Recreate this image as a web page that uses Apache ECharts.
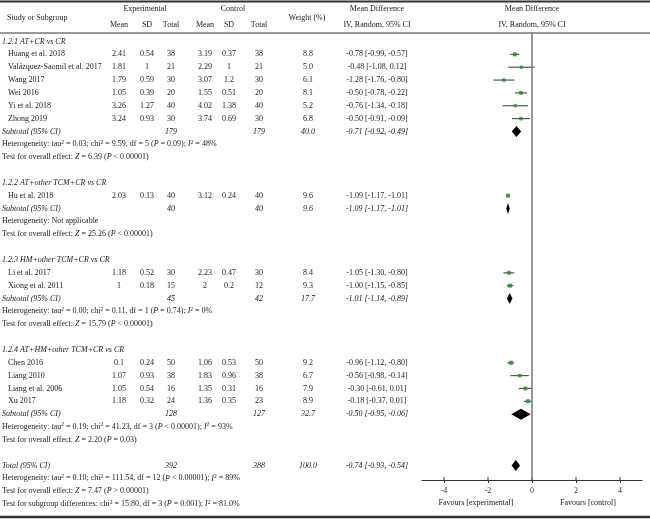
<!DOCTYPE html>
<html lang="en">
<head>
<meta charset="utf-8">
<title>Forest plot</title>
<script src="https://cdn.jsdelivr.net/npm/echarts@6.0.0/dist/echarts.min.js"></script>
<style>
    html, body { margin: 0; padding: 0; background: #fff; }
    #container { width: 650px; height: 519px; }
</style>
</head>
<body>
<div id="container"></div>
<script>
    // ---- data ----
    var groupLabels = ['1.2.1 AT+CR vs CR', '1.2.2 AT+other TCM+CR vs CR', '1.2.3 HM+other TCM+CR vs CR', '1.2.4 AT+HM+other TCM+CR vs CR'];
    var studies = ['Huang et al. 2018', 'Valázquez-Saomil et al. 2017', 'Wang 2017', 'Wei 2016', 'Yi et al. 2018', 'Zhong 2019',
        'Hu et al. 2018', 'Li et al. 2017', 'Xiong et al. 2011', 'Chen 2016', 'Liang 2010', 'Liang et al. 2006', 'Xu 2017'];
    var studyGroup = [0, 0, 0, 0, 0, 0, 1, 2, 2, 3, 3, 3, 3];
    var expMean = [2.41, 1.81, 1.79, 1.05, 3.26, 3.24, 2.03, 1.18, 1, 0.1, 1.07, 1.05, 1.18];
    var expSD = [0.54, 1, 0.59, 0.39, 1.27, 0.93, 0.13, 0.52, 0.18, 0.24, 0.93, 0.54, 0.32];
    var expN = [38, 21, 30, 20, 40, 30, 40, 30, 15, 50, 38, 16, 24];
    var ctrlMean = [3.19, 2.29, 3.07, 1.55, 4.02, 3.74, 3.12, 2.23, 2, 1.06, 1.83, 1.35, 1.36];
    var ctrlSD = [0.37, 1, 1.2, 0.51, 1.38, 0.69, 0.24, 0.47, 0.2, 0.53, 0.96, 0.31, 0.35];
    var ctrlN = [38, 21, 30, 20, 40, 30, 40, 30, 12, 50, 38, 16, 23];
    var weight = [8.8, 5.0, 6.1, 8.1, 5.2, 6.8, 9.6, 8.4, 9.3, 9.2, 6.7, 7.9, 8.9];
    var md = [-0.78, -0.48, -1.28, -0.50, -0.76, -0.50, -1.09, -1.05, -1.00, -0.96, -0.56, -0.30, -0.18];
    var ciLow = [-0.99, -1.08, -1.76, -0.78, -1.34, -0.91, -1.17, -1.30, -1.15, -1.12, -0.98, -0.61, -0.37];
    var ciHigh = [-0.57, 0.12, -0.80, -0.22, -0.18, -0.09, -1.01, -0.80, -0.85, -0.80, -0.14, 0.01, 0.01];

    var subExpN = [179, 40, 45, 128];
    var subCtrlN = [179, 40, 42, 127];
    var subWeight = [40.0, 9.6, 17.7, 32.7];
    var subMd = [-0.71, -1.09, -1.01, -0.50];
    var subLow = [-0.92, -1.17, -1.14, -0.95];
    var subHigh = [-0.49, -1.01, -0.89, -0.06];
    var hetText = [
        'Heterogeneity: tau{sup|2} = 0.03; chi{sup|2} = 9.59, df = 5 ({it|P} = 0.09); {it|I}{sup|2} = 48%',
        'Heterogeneity: Not applicable',
        'Heterogeneity: tau{sup|2} = 0.00; chi{sup|2} = 0.11, df = 1 ({it|P} = 0.74); {it|I}{sup|2} = 0%',
        'Heterogeneity: tau{sup|2} = 0.19; chi{sup|2} = 41.23, df = 3 ({it|P} < 0.00001); {it|I}{sup|2} = 93%'
    ];
    var effectText = [
        'Test for overall effect: {it|Z} = 6.39 ({it|P} < 0.00001)',
        'Test for overall effect: {it|Z} = 25.26 ({it|P} < 0.00001)',
        'Test for overall effect: {it|Z} = 15.79 ({it|P} < 0.00001)',
        'Test for overall effect: {it|Z} = 2.20 ({it|P} = 0.03)'
    ];
    var totalExpN = 392, totalCtrlN = 388, totalWeight = 100.0;
    var totalMd = -0.74, totalLow = -0.93, totalHigh = -0.54;
    var totalNotes = [
        'Heterogeneity: tau{sup|2} = 0.10; chi{sup|2} = 111.54, df = 12 ({it|P} < 0.00001); {it|I}{sup|2} = 89%',
        'Test for overall effect: {it|Z} = 7.47 ({it|P} > 0.00001)',
        'Test for subgroup differences: chi{sup|2} = 15.80, df = 3 ({it|P} = 0.001); {it|I}{sup|2} = 81.0%'
    ];
    var axisTicks = [-4, -2, 0, 2, 4];

    // ---- layout ----
    var FONT = '"Liberation Serif", "DejaVu Serif", serif';
    var FS = 8;
    var INK = '#222';
    var Y0 = 41.5, RH = 12.85, TOP = 33, AXIS_Y = 480;
    var yMin = -(Y0 - TOP) / RH;
    var yMax = yMin + (AXIS_Y - TOP) / RH;
    // column centres
    var colX = {expMean: 119, expSD: 147, expN: 171, ctrlMean: 205, ctrlSD: 229, ctrlN: 259, weight: 308, md: 377};

    var rows = [];
    var studyRow = [], subRow = [];
    var r = 0;
    for (var g = 0; g < groupLabels.length; g++) {
        rows.push({r: r++, kind: 'group', g: g});
        for (var i = 0; i < studies.length; i++) {
            if (studyGroup[i] === g) {
                studyRow[i] = r;
                rows.push({r: r++, kind: 'study', i: i});
            }
        }
        subRow[g] = r;
        rows.push({r: r++, kind: 'sub', g: g});
        rows.push({r: r++, kind: 'note', text: hetText[g]});
        rows.push({r: r++, kind: 'note', text: effectText[g]});
        r++;
    }
    var totalRow = r;
    rows.push({r: r++, kind: 'total'});
    totalNotes.forEach(function (t) { rows.push({r: r++, kind: 'note', text: t}); });

    function mdText(m, lo, hi) { return m.toFixed(2) + ' [' + lo.toFixed(2) + ', ' + hi.toFixed(2) + ']'; }

    var dom = document.getElementById('container');
    var myChart = echarts.init(dom);

    var diamonds = subMd.map(function (m, k) { return [subLow[k], m, subHigh[k], subRow[k]]; });
    diamonds.push([totalLow, totalMd, totalHigh, totalRow]);

    var option = {
        animation: false,
        grid: {left: 422, width: 220, top: TOP, bottom: 519 - AXIS_Y},
        xAxis: {
            type: 'value', min: -5, max: 5, position: 'bottom',
            axisLine: {show: true, onZero: false, lineStyle: {color: '#333', width: 1}},
            axisTick: {show: true, customValues: axisTicks, length: 3, lineStyle: {color: '#333'}},
            axisLabel: {customValues: axisTicks, fontFamily: FONT, fontSize: FS, color: '#333', margin: 7},
            splitLine: {show: false}
        },
        yAxis: {
            type: 'value', inverse: true, min: yMin, max: yMax,
            show: false
        },
        series: [{
            name: 'ci',
            type: 'custom',
            data: studies.map(function (s, k) { return [ciLow[k], ciHigh[k], studyRow[k]]; }),
            encode: {x: [0, 1], y: 2},
            renderItem: function (params, api) {
                var a = api.coord([api.value(0), api.value(2)]);
                var b = api.coord([api.value(1), api.value(2)]);
                return {type: 'line', shape: {x1: a[0], y1: a[1], x2: b[0], y2: b[1]},
                    style: {stroke: '#555', lineWidth: 1.2}};
            }
        }, {
            name: 'study',
            type: 'scatter',
            symbol: 'rect',
            data: studies.map(function (s, k) {
                return {value: [md[k], studyRow[k]], symbolSize: 2.2 + weight[k] * 0.2};
            }),
            itemStyle: {color: '#1f8f26'},
            markLine: {
                silent: true, symbol: 'none',
                label: {show: false},
                lineStyle: {color: '#777', width: 1.5, type: 'solid'},
                data: [{xAxis: 0}]
            }
        }, {
            name: 'pooled',
            type: 'custom',
            data: diamonds,
            encode: {x: [0, 1, 2], y: 3},
            renderItem: function (params, api) {
                var lo = api.coord([api.value(0), api.value(3)]);
                var mid = api.coord([api.value(1), api.value(3)]);
                var hi = api.coord([api.value(2), api.value(3)]);
                var h = 5.5;
                return {type: 'polygon',
                    shape: {points: [[lo[0], lo[1]], [mid[0], mid[1] - h], [hi[0], hi[1]], [mid[0], mid[1] + h]]},
                    style: {fill: '#000'}};
            }
        }, {
            // upper half of the crossing tick marks
            name: 'tickUp',
            type: 'custom',
            clip: false,
            data: axisTicks.map(function (t) { return [t, yMax]; }),
            renderItem: function (params, api) {
                var p = api.coord([api.value(0), api.value(1)]);
                return {type: 'line', shape: {x1: p[0], y1: p[1], x2: p[0], y2: p[1] - 3},
                    style: {stroke: '#333', lineWidth: 1}};
            }
        }]
    };
    myChart.setOption(option);

    // ---- table text ----
    var rich = {
        sup: {fontSize: 5.5, fontFamily: FONT, fill: INK, verticalAlign: 'top', lineHeight: 10},
        it: {fontSize: FS, fontFamily: FONT, fontStyle: 'italic', fill: INK, lineHeight: 10}
    };
    var gfx = [];
    function txt(x, y, s, align, italic) {
        gfx.push({type: 'text', x: x, y: y, silent: true,
            style: {text: s, fontFamily: FONT, fontSize: FS, fontStyle: italic ? 'italic' : 'normal',
                fill: INK, align: align || 'center', verticalAlign: 'middle', rich: rich, lineHeight: 10}});
    }
    function hline(y, w) {
        gfx.push({type: 'line', silent: true, shape: {x1: 0, y1: y, x2: 650, y2: y}, style: {stroke: '#333', lineWidth: w}});
    }
    hline(1.5, 2);
    hline(33, 1);
    hline(517, 2.5);

    txt(145, 9, 'Experimental');
    txt(233, 9, 'Control');
    txt(7, 17.5, 'Study or Subgroup', 'left');
    txt(307, 17.5, 'Weight (%)');
    txt(377, 9, 'Mean Difference');
    txt(377, 24.5, 'IV, Random, 95% CI');
    txt(532, 9, 'Mean Difference');
    txt(532, 24.5, 'IV, Random, 95% CI');
    [['Mean', colX.expMean], ['SD', colX.expSD], ['Total', colX.expN],
     ['Mean', colX.ctrlMean], ['SD', colX.ctrlSD], ['Total', colX.ctrlN]].forEach(function (h) {
        txt(h[1], 24.5, h[0]);
    });

    rows.forEach(function (row) {
        var y = myChart.convertToPixel({yAxisIndex: 0}, row.r);
        if (row.kind === 'group') {
            txt(2, y, groupLabels[row.g], 'left', true);
        } else if (row.kind === 'study') {
            var k = row.i;
            txt(8, y, studies[k], 'left');
            txt(colX.expMean, y, String(expMean[k]));
            txt(colX.expSD, y, String(expSD[k]));
            txt(colX.expN, y, String(expN[k]));
            txt(colX.ctrlMean, y, String(ctrlMean[k]));
            txt(colX.ctrlSD, y, String(ctrlSD[k]));
            txt(colX.ctrlN, y, String(ctrlN[k]));
            txt(colX.weight, y, weight[k].toFixed(1));
            txt(colX.md, y, mdText(md[k], ciLow[k], ciHigh[k]));
        } else if (row.kind === 'sub') {
            var g2 = row.g;
            txt(2, y, 'Subtotal (95% CI)', 'left', true);
            txt(colX.expN, y, String(subExpN[g2]), 'center', true);
            txt(colX.ctrlN, y, String(subCtrlN[g2]), 'center', true);
            txt(colX.weight, y, subWeight[g2].toFixed(1), 'center', true);
            txt(colX.md, y, mdText(subMd[g2], subLow[g2], subHigh[g2]), 'center', true);
        } else if (row.kind === 'total') {
            txt(2, y, 'Total (95% CI)', 'left', true);
            txt(colX.expN, y, String(totalExpN), 'center', true);
            txt(colX.ctrlN, y, String(totalCtrlN), 'center', true);
            txt(colX.weight, y, totalWeight.toFixed(1), 'center', true);
            txt(colX.md, y, mdText(totalMd, totalLow, totalHigh), 'center', true);
        } else {
            txt(2, y, row.text, 'left');
        }
    });

    txt(476, 503, 'Favours [experimental]');
    txt(588, 503, 'Favours [control]');

    myChart.setOption({graphic: gfx});
</script>
</body>
</html>
